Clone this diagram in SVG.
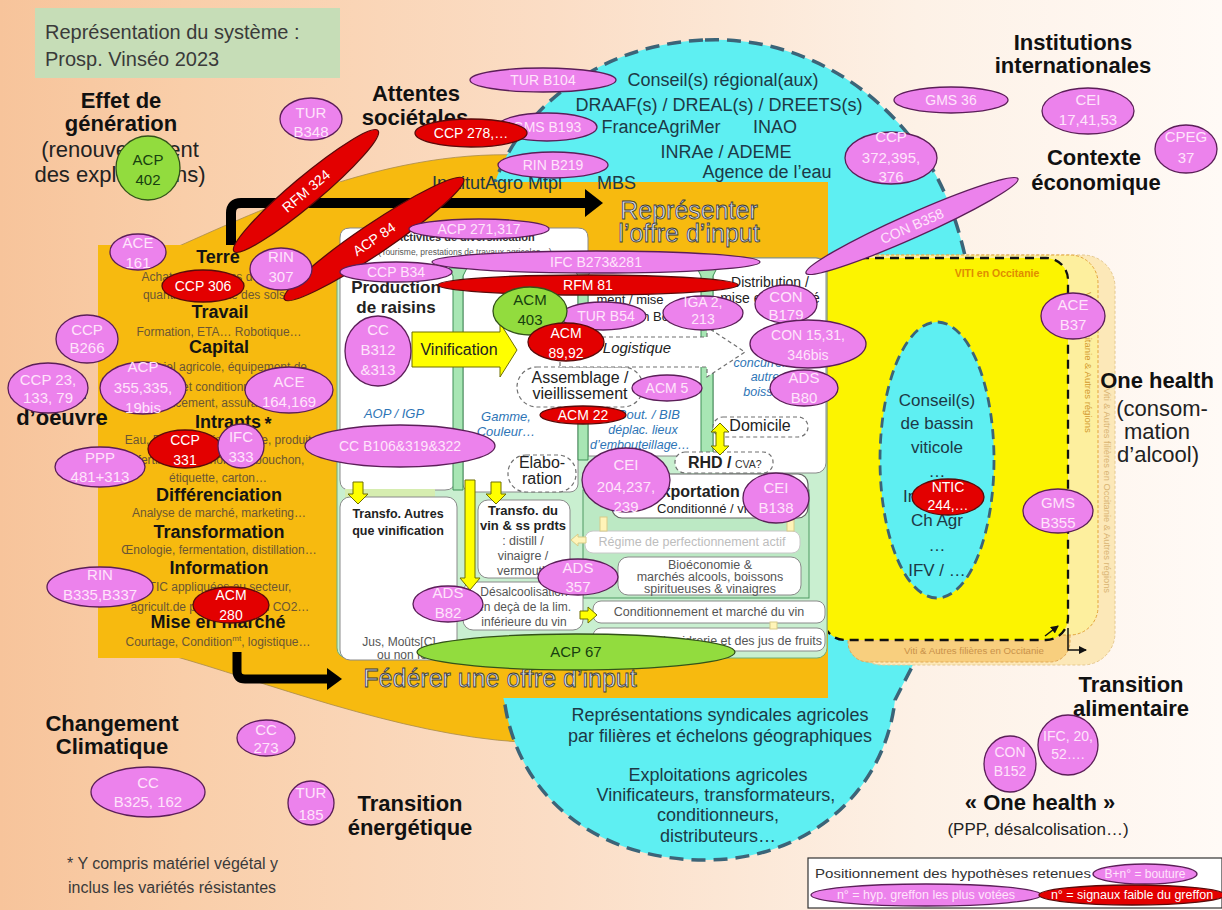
<svg xmlns="http://www.w3.org/2000/svg" width="1222" height="910" viewBox="0 0 1222 910">
<defs>
<linearGradient id="bg" x1="0" y1="0" x2="1" y2="0">
<stop offset="0" stop-color="#F7C49B"/>
<stop offset="0.15" stop-color="#F9CEA9"/>
<stop offset="0.45" stop-color="#FBDDC5"/>
<stop offset="0.75" stop-color="#FDF1E6"/>
<stop offset="1" stop-color="#FFFAF6"/>
</linearGradient>
<marker id="ar" markerWidth="8" markerHeight="8" refX="7" refY="4" orient="auto" markerUnits="userSpaceOnUse"><path d="M0,0 L8,4 L0,8 z" fill="#111"/></marker>
</defs>
<style>
text{font-family:"Liberation Sans",Arial,sans-serif}
.pk{fill:#EC82EC;stroke:#5B1E58;stroke-width:1.3}
.rd{fill:#E30000;stroke:#5A0A0A;stroke-width:1.3}
.gr{fill:#92DC3E;stroke:#33521A;stroke-width:1.3}
.tp{fill:#FFE4FB;font-size:15px;text-anchor:middle}
.ts{fill:#FFE4FB;font-size:14px;text-anchor:middle}
.tr{fill:#FFFFFF;font-size:14px;text-anchor:middle}
.tg{fill:#17400F;font-size:15px;text-anchor:middle}
.big{font-size:22px;font-weight:bold;fill:#111;text-anchor:middle}
.sub{font-size:22px;fill:#222;text-anchor:middle}
.cy{font-size:18px;fill:#1D3946;text-anchor:middle}
.ph{font-size:18px;font-weight:bold;fill:#141414;text-anchor:middle}
.ps{font-size:12px;fill:#6B5634;text-anchor:middle}
.bl{font-style:italic;fill:#2E75B6;text-anchor:middle}
.wb{fill:#FFFFFF;stroke:#8A8A8A;stroke-width:1}
.db{fill:#FFFFFF;stroke:#707070;stroke-width:1.2;stroke-dasharray:4 3}
.ya{fill:#FFFF00;stroke:#6E6E00;stroke-width:1}
.yl{fill:#FFF4B8;stroke:#D8CC88;stroke-width:1}
.bar{fill:#A8E6B4;stroke:#3F8F57;stroke-width:1}
.ttl{font-size:25px;fill:#D7DEEE;stroke:#3A3A3A;stroke-width:0.8;text-anchor:middle}
.dk{fill:#222;text-anchor:middle}
.gy{fill:#555;text-anchor:middle}
</style>

<rect id="background" width="1222" height="910" fill="url(#bg)"/>

<g id="title">
<rect x="35" y="8" width="305" height="70" fill="#C6DDB7"/>
<text x="45" y="39" font-size="20" fill="#3A3A3A">Représentation du système :</text>
<text x="45" y="66" font-size="20" fill="#3A3A3A">Prosp. Vinséo 2023</text>
</g>

<g id="zone-ressources-fond">
<path d="M170,250 C250,215 380,150 520,155 C700,160 850,250 850,450 C850,650 700,745 520,742 C400,735 260,680 170,655 Z" fill="#F7BA0F" stroke="#A88A4A" stroke-width="0.8"/>
</g>

<g id="zone-acteurs">
<path d="M705,40 C790,36 880,80 933,170 C985,260 990,420 960,540 C945,610 915,660 895,700 C885,790 810,860 705,860 C600,860 520,800 505,705 C480,600 470,300 490,200 C505,130 580,45 705,40 Z" fill="#5EEFF2" stroke="#3C6478" stroke-width="3.5" stroke-dasharray="14 8"/>
<text x="723" y="86" class="cy">Conseil(s) régional(aux)</text>
<text x="719" y="111" class="cy">DRAAF(s) / DREAL(s) / DREETS(s)</text>
<text x="661" y="133" class="cy">FranceAgriMer</text>
<text x="775" y="133" class="cy">INAO</text>
<text x="726" y="158" class="cy">INRAe / ADEME</text>
<text x="767" y="178" class="cy">Agence de l’eau</text>
<text x="720" y="721" class="cy">Représentations syndicales agricoles</text>
<text x="720" y="742" class="cy">par filières et échelons géographiques</text>
<text x="718" y="781" class="cy">Exploitations agricoles</text>
<text x="716" y="801" class="cy">Vinificateurs, transformateurs,</text>
<text x="718" y="821" class="cy">conditionneurs,</text>
<text x="718" y="842" class="cy">distributeurs…</text>
</g>

<g id="zone-viti-autres-filieres-regions">
<rect x="850" y="255" width="265" height="410" rx="32" fill="#FCE8B8" stroke="#E6C88E" stroke-width="1" stroke-dasharray="3 2"/>
<text transform="translate(1104,388) rotate(90)" font-size="9.3" fill="#D9B473">Viti &amp; Autres filières en Occitanie &amp; Autres régions</text>
</g>
<g id="zone-viti-autres-filieres">
<rect x="848" y="258" width="222" height="404" rx="20" fill="#F8CF7E" stroke="#E2A855" stroke-width="1" stroke-dasharray="3 2"/>
<text x="974" y="654" font-size="9.7" fill="#C9924A" text-anchor="middle">Viti &amp; Autres filières en Occitanie</text>
</g>
<g id="zone-viti-regions">
<rect x="823" y="255" width="275" height="380" rx="28" fill="#FDEF9E" stroke="#E2A43A" stroke-width="1" stroke-dasharray="3 2"/>
<text transform="translate(1085,292) rotate(90)" font-size="9.5" fill="#D39A2E">Viti en Occitanie &amp; Autres régions</text>
</g>
<g id="zone-viti-occitanie">
<rect x="823" y="258" width="245" height="382" rx="22" fill="#FCF400" stroke="#111" stroke-width="2.3" stroke-dasharray="9 6"/>
<text x="997" y="277" font-size="10.5" font-weight="bold" fill="#E08C00" text-anchor="middle">VITI en Occitanie</text>
</g>
<g id="conseils-bassin">
<ellipse cx="937" cy="460" rx="57" ry="138" fill="#5EEFF2" stroke="#3C6478" stroke-width="2.8" stroke-dasharray="10 6"/>
<text x="937" y="406" font-size="17" fill="#1D3946" text-anchor="middle">Conseil(s)</text>
<text x="937" y="429" font-size="17" fill="#1D3946" text-anchor="middle">de bassin</text>
<text x="937" y="453" font-size="17" fill="#1D3946" text-anchor="middle">viticole</text>
<text x="937" y="477" font-size="17" fill="#1D3946" text-anchor="middle">…</text>
<text x="937" y="502" font-size="17" fill="#1D3946" text-anchor="middle">Interprof.</text>
<text x="937" y="526" font-size="17" fill="#1D3946" text-anchor="middle">Ch Agr</text>
<text x="937" y="551" font-size="17" fill="#1D3946" text-anchor="middle">…</text>
<text x="937" y="576" font-size="17" fill="#1D3946" text-anchor="middle">IFV / …</text>
</g>

<g id="panel-ressources">
<rect x="98" y="245" width="245" height="413" fill="#F7BA0F"/>
</g>
<g id="offre-input">
<rect x="330" y="182" width="498" height="516" fill="#F7BA0F"/>
<text x="689" y="219" class="ttl">Représenter</text>
<text x="689" y="242" class="ttl">l’offre d’input</text>
<text x="500" y="687" class="ttl">Fédérer une offre d’input</text>
</g>

<g id="filiere">
<rect x="337" y="258" width="490" height="400" rx="10" fill="#C9EFD0" stroke="#6FAE7A" stroke-width="1"/>
<path d="M350,228 H578 Q588,228 588,238 V262 H455 V480 Q455,490 445,490 H350 Q340,490 340,480 V238 Q340,228 350,228 Z" class="wb"/>
<rect x="463" y="266" width="250" height="190" fill="#FFFFFF"/>
<rect x="463" y="266" width="115" height="226" rx="8" class="wb"/>
<rect x="588" y="266" width="115" height="190" class="wb"/>
<rect x="713" y="258" width="113" height="215" rx="10" class="wb"/>
<polygon points="449,268 467,268 463,276 463,490 453,490 453,276" class="bar"/>
<polygon points="574,268 592,268 588,276 588,460 578,460 578,276" class="bar"/>
<polygon points="697,268 717,268 713,276 713,455 701,455 701,276" class="bar"/>
<rect x="345" y="489" width="90" height="9" fill="#D6EDB0"/>
<rect x="583" y="490" width="226" height="108" fill="#BCE9C4" stroke="#4E9A62" stroke-width="1"/>
<rect x="612" y="474" width="196" height="44" rx="10" fill="#FFFFFF" stroke="#666" stroke-width="1.2"/>
<rect x="585" y="531" width="215" height="22" rx="8" fill="#FFFFFF" stroke="#C8C8C8" stroke-width="1"/>
<rect x="618" y="557" width="183" height="38" rx="10" class="wb"/>
<rect x="593" y="601" width="232" height="22" rx="8" class="wb"/>
<rect x="593" y="628" width="232" height="23" rx="8" class="wb"/>
<rect x="478" y="500" width="92" height="78" rx="10" class="wb"/>
<rect x="463" y="582" width="120" height="48" rx="10" class="wb"/>
<rect x="340" y="497" width="117" height="163" rx="10" class="wb"/>
<rect x="517" y="367" width="126" height="40" rx="20" class="db"/>
<polygon points="560,337 707,337 707,327 745,352 707,377 707,367 560,367" class="db"/>
<rect x="508" y="455" width="68" height="37" rx="18" class="db"/>
<rect x="713" y="417" width="95" height="20" rx="10" class="db"/>
<rect x="675" y="452" width="98" height="21" rx="10" class="db"/>
<polygon points="412,332 500,332 500,323 517,350 500,377 500,367 412,367" class="ya"/>
<polygon points="353,482 363,482 363,494 368,494 358,504 348,494 353,494" class="ya"/>
<polygon points="491,482 501,482 501,494 506,494 496,504 486,494 491,494" class="ya"/>
<polygon points="465,480 475,480 475,578 480,578 470,590 460,578 465,578" class="ya"/>
<polygon points="580,611 588,611 588,607 597,615 588,623 588,619 580,619" class="ya"/>
<polygon points="720,423 729,432 724,432 724,446 729,446 720,455 711,446 716,446 716,432 711,432" class="ya"/>
<rect x="600" y="517" width="7" height="14" class="yl"/>
<rect x="787" y="517" width="7" height="14" class="yl"/>
<polygon points="586,537 578,537 578,534 571,540 578,546 578,543 586,543" class="yl"/>
<rect x="770" y="622" width="7" height="7" class="yl"/>
<text x="465" y="241" font-size="11" font-weight="bold" fill="#333" text-anchor="middle">Activités de diversification</text>
<text x="465" y="255" font-size="8.5" fill="#555" text-anchor="middle">(Tourisme, prestations de travaux agricoles…)</text>
<text x="396" y="293" font-size="17" font-weight="bold" class="dk">Production</text>
<text x="396" y="313" font-size="17" font-weight="bold" class="dk">de raisins</text>
<text x="394" y="418" font-size="13" class="bl">AOP / IGP</text>
<text x="459" y="355" font-size="16" class="dk">Vinification</text>
<text x="580" y="383" font-size="16" class="dk">Assemblage /</text>
<text x="580" y="399" font-size="16" class="dk">vieillissement</text>
<text x="637" y="353" font-size="15" font-style="italic" class="dk">Logistique</text>
<text x="506" y="421" font-size="13" class="bl">Gamme,</text>
<text x="506" y="436" font-size="13" class="bl">Couleur…</text>
<text x="680" y="419" font-size="13" font-style="italic" fill="#2E75B6" text-anchor="end">Bout. / BIB</text>
<text x="643" y="434" font-size="12.5" class="bl">déplac. lieux</text>
<text x="640" y="449" font-size="12.5" class="bl">d’embouteillage…</text>
<text x="645" y="287" font-size="13" class="dk">Conditionne-</text>
<text x="630" y="304" font-size="13" class="dk">ment / mise</text>
<text x="635" y="321" font-size="13" fill="#222">en Bouteille</text>
<text x="770" y="287" font-size="14" class="dk">Distribution /</text>
<text x="770" y="303" font-size="14" class="dk">mise en marché</text>
<text x="768" y="367" font-size="12.5" class="bl">concurrence</text>
<text x="768" y="381" font-size="12.5" class="bl">autres</text>
<text x="768" y="396" font-size="12.5" class="bl">boissons</text>
<text x="760" y="431" font-size="16" class="dk">Domicile</text>
<text x="688" y="468" font-size="16" font-weight="bold" fill="#222">RHD /</text>
<text x="735" y="468" font-size="10.5" fill="#333">CVA?</text>
<text x="542" y="468" font-size="16" class="dk">Elabo-</text>
<text x="542" y="484" font-size="16" class="dk">ration</text>
<text x="651" y="497" font-size="16" font-weight="bold" fill="#222">Exportation</text>
<text x="657" y="513" font-size="13" fill="#222">Conditionné / vrac</text>
<text x="692" y="546" font-size="12.5" fill="#BDBDBD" text-anchor="middle">Régime de perfectionnement actif</text>
<text x="710" y="569" font-size="12.5" class="gy">Bioéconomie &amp;</text>
<text x="710" y="581" font-size="12.5" class="gy">marchés alcools, boissons</text>
<text x="710" y="593" font-size="12.5" class="gy">spiritueuses &amp; vinaigres</text>
<text x="709" y="616" font-size="12.5" class="gy">Conditionnement et marché du vin</text>
<text x="822" y="645" font-size="12.5" fill="#555" text-anchor="end">Marché de la cidrerie et des jus de fruits</text>
<text x="523" y="515" font-size="13" font-weight="bold" class="dk">Transfo. du</text>
<text x="523" y="530" font-size="13" font-weight="bold" class="dk">vin &amp; ss prdts</text>
<text x="523" y="545" font-size="12.5" class="gy">: distill /</text>
<text x="523" y="560" font-size="12.5" class="gy">vinaigre /</text>
<text x="523" y="575" font-size="12.5" class="gy">vermouth</text>
<text x="524" y="596" font-size="12" class="gy">Désalcoolisation</text>
<text x="524" y="611" font-size="12" class="gy">en deçà de la lim.</text>
<text x="524" y="626" font-size="12" class="gy">inférieure du vin</text>
<text x="398" y="518" font-size="12.5" font-weight="bold" class="dk">Transfo. Autres</text>
<text x="398" y="535" font-size="12.5" font-weight="bold" class="dk">que vinification</text>
<text x="399" y="646" font-size="12" class="gy">Jus, Moûts[C]</text>
<text x="377" y="659" font-size="12" fill="#555">ou non fermentés</text>
</g>

<g id="panel-texte">
<text x="218" y="263" class="ph">Terre</text>
<text x="220" y="281" class="ps">Achats et locations de foncier</text>
<text x="214" y="299" class="ps">quantité et qualité des sols</text>
<text x="220" y="318" class="ph">Travail</text>
<text x="219" y="336" class="ps">Formation, ETA… Robotique…</text>
<text x="219" y="353" class="ph">Capital</text>
<text x="220" y="371" class="ps">Matériel agricole, équipement de</text>
<text x="220" y="391" class="ps">cave et conditionnement,</text>
<text x="220" y="407" class="ps">Financement, assurances…</text>
<text x="228" y="428" class="ph">Intrants</text>
<text x="268" y="430" class="ph">*</text>
<text x="221" y="444" class="ps">Eau, PPP, engrais, énergie, produits</text>
<text x="221" y="464" class="ps">fertilisants, œnologie, bouchon,</text>
<text x="218" y="482" class="ps">étiquette, carton…</text>
<text x="219" y="501" class="ph">Différenciation</text>
<text x="219" y="517" class="ps">Analyse de marché, marketing…</text>
<text x="219" y="538" class="ph">Transformation</text>
<text x="219" y="554" class="ps">Œnologie, fermentation, distillation…</text>
<text x="219" y="574" class="ph">Information</text>
<text x="220" y="591" class="ps">TIC appliquées au secteur,</text>
<text x="220" y="611" class="ps">agricult.de précision, bilan CO2…</text>
<text x="218" y="628" class="ph">Mise en marché</text>
<text x="218" y="646" class="ps">Courtage, Condition<tspan font-size="8" dy="-5">mt</tspan><tspan dy="5">,  logistique…</tspan></text>
</g>

<g id="moteurs">
<text x="121" y="108" class="big">Effet de</text>
<text x="121" y="131" class="big">génération</text>
<text x="120" y="157" class="sub">(renouvellement</text>
<text x="120" y="182" class="sub">des exploitations)</text>
<text x="416" y="101" class="big">Attentes</text>
<text x="415" y="125" class="big">sociétales</text>
<text x="497" y="189" font-size="18" fill="#1D3946" text-anchor="middle">InstitutAgro Mtpl</text>
<text x="597" y="189" font-size="18" fill="#1D3946">MBS</text>
<text x="1073" y="50" class="big">Institutions</text>
<text x="1073" y="73" class="big">internationales</text>
<text x="1094" y="165" class="big">Contexte</text>
<text x="1096" y="190" class="big">économique</text>
<text x="1157" y="388" class="big">One health</text>
<text x="1162" y="416" class="sub">(consom-</text>
<text x="1157" y="439" class="sub">mation</text>
<text x="1158" y="462" class="sub">d’alcool)</text>
<text x="62" y="399" class="big">Main</text>
<text x="62" y="425" class="big">d’oeuvre</text>
<text x="112" y="731" class="big">Changement</text>
<text x="112" y="754" class="big">Climatique</text>
<text x="410" y="811" class="big">Transition</text>
<text x="410" y="835" class="big">énergétique</text>
<text x="1131" y="692" class="big">Transition</text>
<text x="1131" y="716" class="big">alimentaire</text>
<text x="1040" y="810" class="big">« One health »</text>
<text x="1038" y="835" font-size="17" fill="#222" text-anchor="middle">(PPP, désalcolisation…)</text>
<text x="67" y="869" font-size="16" fill="#3A3A3A">* Y compris matériel végétal y</text>
<text x="68" y="893" font-size="16" fill="#3A3A3A">inclus les variétés résistantes</text>
</g>

<g id="connecteurs">
<path d="M231,245 V213 Q231,203 241,203 H586" fill="none" stroke="#000" stroke-width="10"/>
<polygon points="585,189 603,203 585,217" fill="#000"/>
<path d="M237,652 V671 Q237,679 245,679 H328" fill="none" stroke="#000" stroke-width="9"/>
<polygon points="327,668 342,679 327,690" fill="#000"/>
<path d="M1068,628 V650 H1086" fill="none" stroke="#111" stroke-width="1.5" marker-end="url(#ar)"/>
<path d="M1045,636 L1058,626" fill="none" stroke="#111" stroke-width="1.5" marker-end="url(#ar)"/>
</g>

<g id="hypotheses">
<g id="h-tur-b348"><ellipse cx="311" cy="119" rx="31" ry="21" class="pk"/><text x="311" y="118" class="tp">TUR</text><text x="311" y="137" class="tp">B348</text></g>
<g id="h-acp-402"><ellipse cx="148" cy="168" rx="32" ry="32" class="gr"/><text x="148" y="165" class="tg">ACP</text><text x="148" y="185" class="tg">402</text></g>
<g id="h-tur-b104"><ellipse cx="543" cy="80" rx="73" ry="12" class="pk"/><text x="543" y="85" class="ts">TUR B104</text></g>
<g id="h-gms-b193"><ellipse cx="547" cy="127" rx="50" ry="14" class="pk"/><text x="547" y="132" class="ts">GMS B193</text></g>
<g id="h-ccp-278"><ellipse cx="471" cy="133" rx="56" ry="14" class="rd"/><text x="471" y="138" class="tr">CCP 278,…</text></g>
<g id="h-rin-b219"><ellipse cx="553" cy="165" rx="55" ry="13" class="pk"/><text x="553" y="170" class="ts">RIN B219</text></g>
<g id="h-rfm-324" transform="translate(306,191) rotate(-40)"><ellipse rx="94" ry="14" class="rd"/><text y="5" class="tr" font-size="13">RFM 324</text></g>
<g id="h-acp-84" transform="translate(374,239) rotate(-34)"><ellipse rx="108" ry="15" class="rd"/><text y="5" class="tr">ACP 84</text></g>
<g id="h-gms-36"><ellipse cx="951" cy="100" rx="57" ry="13" class="pk"/><text x="951" y="105" class="ts">GMS 36</text></g>
<g id="h-cei-17"><ellipse cx="1088" cy="111" rx="46" ry="23" class="pk"/><text x="1088" y="105" class="tp">CEI</text><text x="1088" y="125" class="tp">17,41,53</text></g>
<g id="h-cpeg-37"><ellipse cx="1186" cy="149" rx="31" ry="24" class="pk"/><text x="1186" y="142" class="tp">CPEG</text><text x="1186" y="163" class="tp">37</text></g>
<g id="h-ccp-372"><ellipse cx="891" cy="158" rx="46" ry="26" class="pk"/><text x="891" y="142" class="tp">CCP</text><text x="891" y="163" class="tp">372,395,</text><text x="891" y="182" class="tp">376</text></g>
<g id="h-con-b358" transform="translate(912,226) rotate(-24)"><ellipse rx="116" ry="12" class="pk"/><text y="5" class="ts">CON B358</text></g>
<g id="h-ace-161"><ellipse cx="138" cy="252" rx="28" ry="18" class="pk"/><text x="138" y="248" class="tp">ACE</text><text x="138" y="268" class="tp">161</text></g>
<g id="h-rin-307"><ellipse cx="281" cy="269" rx="31" ry="21" class="pk"/><text x="281" y="262" class="tp">RIN</text><text x="281" y="282" class="tp">307</text></g>
<g id="h-ccp-306"><ellipse cx="203" cy="286" rx="41" ry="16" class="rd"/><text x="203" y="291" class="tr">CCP 306</text></g>
<g id="h-ccp-b266"><ellipse cx="87" cy="339" rx="31" ry="24" class="pk"/><text x="87" y="335" class="tp">CCP</text><text x="87" y="353" class="tp">B266</text></g>
<g id="h-ccp-23"><ellipse cx="48" cy="388" rx="40" ry="25" class="pk"/><text x="48" y="385" class="tp">CCP 23,</text><text x="48" y="403" class="tp">133, 79</text></g>
<g id="h-acp-355"><ellipse cx="143" cy="388" rx="43" ry="26" class="pk"/><text x="143" y="372" class="tp">ACP</text><text x="143" y="393" class="tp">355,335,</text><text x="143" y="413" class="tp">19bis</text></g>
<g id="h-ace-164"><ellipse cx="289" cy="390" rx="44" ry="23" class="pk"/><text x="289" y="387" class="tp">ACE</text><text x="289" y="407" class="tp">164,169</text></g>
<g id="h-ccp-331"><ellipse cx="185" cy="449" rx="37" ry="19" class="rd"/><text x="185" y="445" class="tr">CCP</text><text x="185" y="465" class="tr">331</text></g>
<g id="h-ifc-333"><ellipse cx="241" cy="446" rx="23" ry="22" class="pk"/><text x="241" y="442" class="tp">IFC</text><text x="241" y="462" class="tp">333</text></g>
<g id="h-ppp-481"><ellipse cx="100" cy="467" rx="45" ry="20" class="pk"/><text x="100" y="463" class="tp">PPP</text><text x="100" y="482" class="tp">481+313</text></g>
<g id="h-cc-b106"><ellipse cx="400" cy="446" rx="95" ry="21" class="pk"/><text x="400" y="451" class="ts">CC B106&amp;319&amp;322</text></g>
<g id="h-rin-b335"><ellipse cx="100" cy="587" rx="53" ry="20" class="pk"/><text x="100" y="580" class="tp">RIN</text><text x="100" y="600" class="tp">B335,B337</text></g>
<g id="h-acm-280"><ellipse cx="231" cy="605" rx="38" ry="18" class="rd"/><text x="231" y="600" class="tr">ACM</text><text x="231" y="620" class="tr">280</text></g>
<g id="h-cc-273"><ellipse cx="266" cy="738" rx="29" ry="18" class="pk"/><text x="266" y="735" class="tp">CC</text><text x="266" y="753" class="tp">273</text></g>
<g id="h-cc-b325"><ellipse cx="148" cy="792" rx="57" ry="25" class="pk"/><text x="148" y="788" class="tp">CC</text><text x="148" y="807" class="tp">B325, 162</text></g>
<g id="h-tur-185"><ellipse cx="311" cy="803" rx="23" ry="22" class="pk"/><text x="311" y="798" class="tp">TUR</text><text x="311" y="820" class="tp">185</text></g>
<g id="h-acp-271"><ellipse cx="479" cy="229" rx="70" ry="10" class="pk"/><text x="479" y="234" class="ts">ACP 271,317</text></g>
<g id="h-ccp-b34"><ellipse cx="396" cy="272" rx="56" ry="10" class="pk"/><text x="396" y="277" class="ts">CCP B34</text></g>
<g id="h-ifc-b273"><ellipse cx="596" cy="262" rx="164" ry="11" class="pk"/><text x="596" y="267" class="ts">IFC B273&amp;281</text></g>
<g id="h-rfm-81"><ellipse cx="588" cy="285" rx="150" ry="10" class="rd"/><text x="588" y="290" class="tr">RFM 81</text></g>
<g id="h-cc-b312"><ellipse cx="378" cy="351" rx="33" ry="35" class="pk"/><text x="378" y="335" class="tp">CC</text><text x="378" y="355" class="tp">B312</text><text x="378" y="375" class="tp">&amp;313</text></g>
<g id="h-tur-b54"><ellipse cx="603" cy="316" rx="43" ry="14" class="pk"/><text x="606" y="321" class="ts">TUR B54</text></g>
<g id="h-acm-403"><ellipse cx="530" cy="311" rx="37" ry="24" class="gr"/><text x="530" y="305" class="tg">ACM</text><text x="530" y="325" class="tg">403</text></g>
<g id="h-acm-89"><ellipse cx="566" cy="342" rx="38" ry="19" class="rd"/><text x="566" y="338" class="tr">ACM</text><text x="566" y="358" class="tr">89,92</text></g>
<g id="h-iga-2"><ellipse cx="703" cy="313" rx="40" ry="17" class="pk"/><text x="703" y="307" class="ts">IGA 2,</text><text x="703" y="324" class="ts">213</text></g>
<g id="h-acm-5"><ellipse cx="667" cy="388" rx="35" ry="13" class="pk"/><text x="667" y="393" class="ts">ACM 5</text></g>
<g id="h-acm-22"><ellipse cx="583" cy="415" rx="43" ry="9" class="rd"/><text x="583" y="420" class="tr">ACM 22</text></g>
<g id="h-con-b179"><ellipse cx="786" cy="304" rx="31" ry="19" class="pk"/><text x="786" y="302" class="tp">CON</text><text x="786" y="320" class="tp">B179</text></g>
<g id="h-con-15"><ellipse cx="808" cy="344" rx="58" ry="24" class="pk"/><text x="808" y="340" class="ts">CON 15,31,</text><text x="808" y="360" class="ts">346bis</text></g>
<g id="h-ads-b80"><ellipse cx="804" cy="388" rx="34" ry="18" class="pk"/><text x="804" y="383" class="tp">ADS</text><text x="804" y="403" class="tp">B80</text></g>
<g id="h-cei-204"><ellipse cx="626" cy="480" rx="44" ry="32" class="pk"/><text x="626" y="470" class="tp">CEI</text><text x="626" y="492" class="tp">204,237,</text><text x="626" y="512" class="tp">239</text></g>
<g id="h-cei-b138"><ellipse cx="776" cy="498" rx="33" ry="25" class="pk"/><text x="776" y="493" class="tp">CEI</text><text x="776" y="513" class="tp">B138</text></g>
<g id="h-ads-357"><ellipse cx="578" cy="577" rx="40" ry="18" class="pk"/><text x="578" y="573" class="tp">ADS</text><text x="578" y="592" class="tp">357</text></g>
<g id="h-ads-b82"><ellipse cx="448" cy="604" rx="35" ry="18" class="pk"/><text x="448" y="598" class="tp">ADS</text><text x="448" y="618" class="tp">B82</text></g>
<g id="h-acp-67"><ellipse cx="576" cy="652" rx="159" ry="18" class="gr"/><text x="576" y="657" class="tg" font-size="14">ACP 67</text></g>
<g id="h-ace-b37"><ellipse cx="1073" cy="316" rx="32" ry="23" class="pk"/><text x="1073" y="310" class="tp">ACE</text><text x="1073" y="330" class="tp">B37</text></g>
<g id="h-ntic-244"><ellipse cx="948" cy="497" rx="36" ry="18" class="rd"/><text x="948" y="492" class="tr">NTIC</text><text x="948" y="510" class="tr">244,…</text></g>
<g id="h-gms-b355"><ellipse cx="1058" cy="511" rx="35" ry="22" class="pk"/><text x="1058" y="508" class="tp">GMS</text><text x="1058" y="528" class="tp">B355</text></g>
<g id="h-con-b152"><ellipse cx="1010" cy="764" rx="26" ry="28" class="pk"/><text x="1010" y="757" class="ts">CON</text><text x="1010" y="776" class="ts">B152</text></g>
<g id="h-ifc-20"><ellipse cx="1068" cy="745" rx="30" ry="30" class="pk"/><text x="1068" y="741" class="ts" font-size="13">IFC, 20,</text><text x="1068" y="759" class="ts" font-size="13">52….</text></g>
</g>

<g id="legende">
<rect x="808" y="858" width="414" height="50" fill="#FFFFFF" stroke="#333" stroke-width="1.2"/>
<text x="815" y="878" font-size="13" fill="#333" textLength="276" lengthAdjust="spacingAndGlyphs">Positionnement des hypothèses retenues</text>
<ellipse cx="1145" cy="874" rx="52" ry="10" class="pk"/>
<text x="1145" y="878" font-size="12" fill="#FFE4FB" text-anchor="middle">B+n° = bouture</text>
<ellipse cx="926" cy="895" rx="115" ry="11" class="pk"/>
<text x="926" y="899" font-size="12.5" fill="#FFE4FB" text-anchor="middle">n° = hyp. greffon les plus votées</text>
<ellipse cx="1132" cy="895" rx="93" ry="10" class="rd"/>
<text x="1132" y="899" font-size="12.5" fill="#FFFFFF" text-anchor="middle">n° = signaux faible du greffon</text>
</g>
</svg>
